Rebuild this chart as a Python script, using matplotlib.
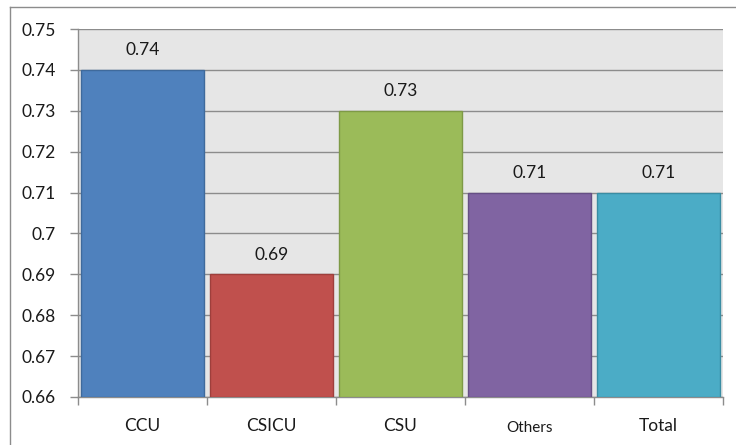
import matplotlib
matplotlib.use("Agg")
import matplotlib.pyplot as plt
from matplotlib.lines import Line2D
from matplotlib.ticker import FixedLocator, FuncFormatter

categories = ["CCU", "CSICU", "CSU", "Others", "Total"]
values = [0.74, 0.69, 0.73, 0.71, 0.71]
colors = ["#4F81BD", "#C0504D", "#9BBB59", "#8064A2", "#4BACC6"]
edges = ["#3F6A9C", "#9E3F3C", "#7E9A46", "#664F85", "#3A8DA3"]
yticks = [0.66, 0.67, 0.68, 0.69, 0.70, 0.71, 0.72, 0.73, 0.74, 0.75]

plt.rcParams['font.family'] = ['Lato', 'DejaVu Sans']
FS = 12.5

fig = plt.figure(figsize=(7.36, 4.45), dpi=100)
W, H = 736, 445
ax = fig.add_axes([78 / W, (H - 397) / H, (723 - 78) / W, (397 - 29) / H])
ax.set_facecolor("#E6E6E6")

x = list(range(len(categories)))
ax.bar(x, [v - 0.66 for v in values], bottom=0.66, width=0.95,
       color=colors, edgecolor=edges, linewidth=1.0, zorder=3)

for xi, v in zip(x, values):
    ax.annotate(f"{v:g}", (xi, v), xytext=(0, 8.5), textcoords="offset points",
                ha="center", va="bottom", fontsize=FS, color="#1a1a1a")

ax.set_xlim(-0.5, len(categories) - 0.5)
ax.set_ylim(0.66, 0.75)
ax.yaxis.set_major_locator(FixedLocator(yticks))
ax.yaxis.set_major_formatter(FuncFormatter(lambda v, p: f"{round(v, 2):g}"))
ax.grid(axis="y", color="#8C8C8C", linewidth=1.0, zorder=1)
ax.set_axisbelow(True)

ax.set_xticks([i - 0.5 for i in range(len(categories) + 1)])
ax.set_xticklabels([])
ax.set_xticks(x, minor=True)
ax.set_xticklabels(categories, minor=True)
for lbl in ax.get_xticklabels(minor=True):
    lbl.set_fontsize(FS)
    if lbl.get_text() == "Others":
        lbl.set_fontsize(FS - 1.5)
        lbl.set_y(-0.008)
ax.tick_params(axis="x", which="minor", length=0, pad=15, colors="#1a1a1a")
ax.tick_params(axis="x", which="major", length=6, color="#8C8C8C", width=1)
ax.tick_params(axis="y", length=6, color="#8C8C8C", width=1, labelsize=FS,
               labelcolor="#1a1a1a", pad=10)

for s in ["top", "right"]:
    ax.spines[s].set_visible(False)
for s in ["left", "bottom"]:
    ax.spines[s].set_color("#8C8C8C")
    ax.spines[s].set_linewidth(1.0)

# outer chart frame
fig.add_artist(Line2D([10 / W, 10 / W], [0, 1 - 7 / H], transform=fig.transFigure,
                      color="#8C8C8C", linewidth=1.0))
fig.add_artist(Line2D([10 / W, 1], [1 - 7 / H, 1 - 7 / H], transform=fig.transFigure,
                      color="#8C8C8C", linewidth=1.0))

fig.savefig("out.png", dpi=100, facecolor="white")
